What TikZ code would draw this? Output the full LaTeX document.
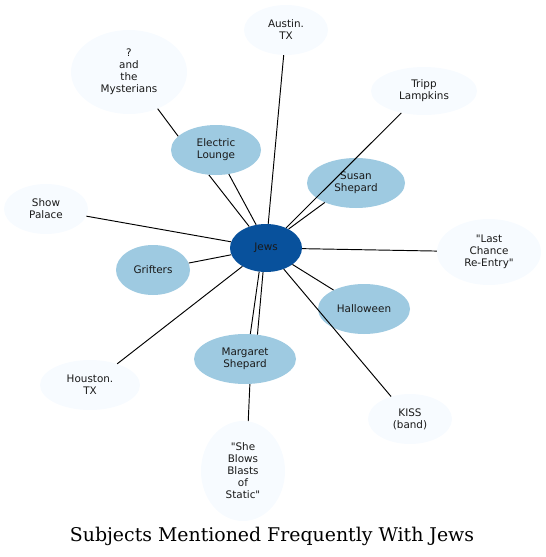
\documentclass[tikz,border=0pt]{standalone}
\usepackage{fontspec}
\setmainfont{DejaVu Sans}[Ligatures=TeXOff]
\newfontfamily\titlefont{DejaVu Serif}
\usetikzlibrary{shapes.geometric}
\definecolor{lightfill}{HTML}{F7FBFF}
\definecolor{midfill}{HTML}{9ECAE1}
\definecolor{darkfill}{HTML}{08519C}
\tikzset{
  ell/.style={ellipse, inner sep=0pt, align=center, font=\fontsize{10.4}{12}\selectfont, text=black!90},
  outer/.style={ell, fill=lightfill},
  inner/.style={ell, fill=midfill},
  hub/.style={ell, fill=darkfill},
  edge/.style={draw=black, line width=0.95pt}
}
\begin{document}
\begin{tikzpicture}[x=1pt,y=-1pt]
\useasboundingbox (0,0) rectangle (546,557);
% nodes
\node[hub, minimum width=72pt, minimum height=48pt] (J) at (266,248) {Jews};
\node[outer, minimum width=84pt, minimum height=50pt] (A) at (286,30) {Austin.\\TX};
\node[outer, minimum width=116pt, minimum height=84pt] (M) at (129,72) {?\\and\\the\\Mysterians};
\node[inner, minimum width=90pt, minimum height=50pt] (E) at (216,150) {Electric\\Lounge};
\node[outer, minimum width=106pt, minimum height=48pt] (T) at (424,91) {Tripp\\Lampkins};
\node[inner, minimum width=98pt, minimum height=50pt] (S) at (356,183) {Susan\\Shepard};
\node[outer, minimum width=84pt, minimum height=50pt] (P) at (46,209) {Show\\Palace};
\node[inner, minimum width=74pt, minimum height=50pt] (G) at (153,270) {Grifters};
\node[outer, minimum width=104pt, minimum height=66pt] (L) at (489,252) {"Last\\Chance\\Re-Entry"};
\node[inner, minimum width=92pt, minimum height=50pt] (H) at (364,309) {Halloween};
\node[outer, minimum width=100pt, minimum height=50pt] (U) at (90,385) {Houston.\\TX};
\node[inner, minimum width=102pt, minimum height=50pt] (R) at (245,359) {Margaret\\Shepard};
\node[outer, minimum width=84pt, minimum height=50pt] (K) at (410,419) {KISS\\(band)};
\node[outer, minimum width=84pt, minimum height=100pt] (B) at (243,471) {"She\\Blows\\Blasts\\of\\Static"};
\node[font=\titlefont\fontsize{18.9}{22}\selectfont] (title) at (272,536) {Subjects Mentioned Frequently With Jews};
% edges
\draw[edge] (J) -- (A);
\draw[edge] (J.128) -- (E.254);
\draw[edge] (J.113) -- (E.298);
\draw[edge] (M.308) -- (E.160);
\draw[edge] (J.45) -- (T.224);
\draw[edge] (J.40) -- (S.212);
\draw[edge] (J) -- (P);
\draw[edge] (J) -- (G);
\draw[edge] (J) -- (L);
\draw[edge] (J) -- (H);
\draw[edge] (J) -- (K);
\draw[edge] (J) -- (U);
\draw[edge] (J.254) -- (R.78);
\draw[edge] (J.263) -- (R.63);
\draw[edge] (R.281) -- (B.84);
\end{tikzpicture}
\end{document}
